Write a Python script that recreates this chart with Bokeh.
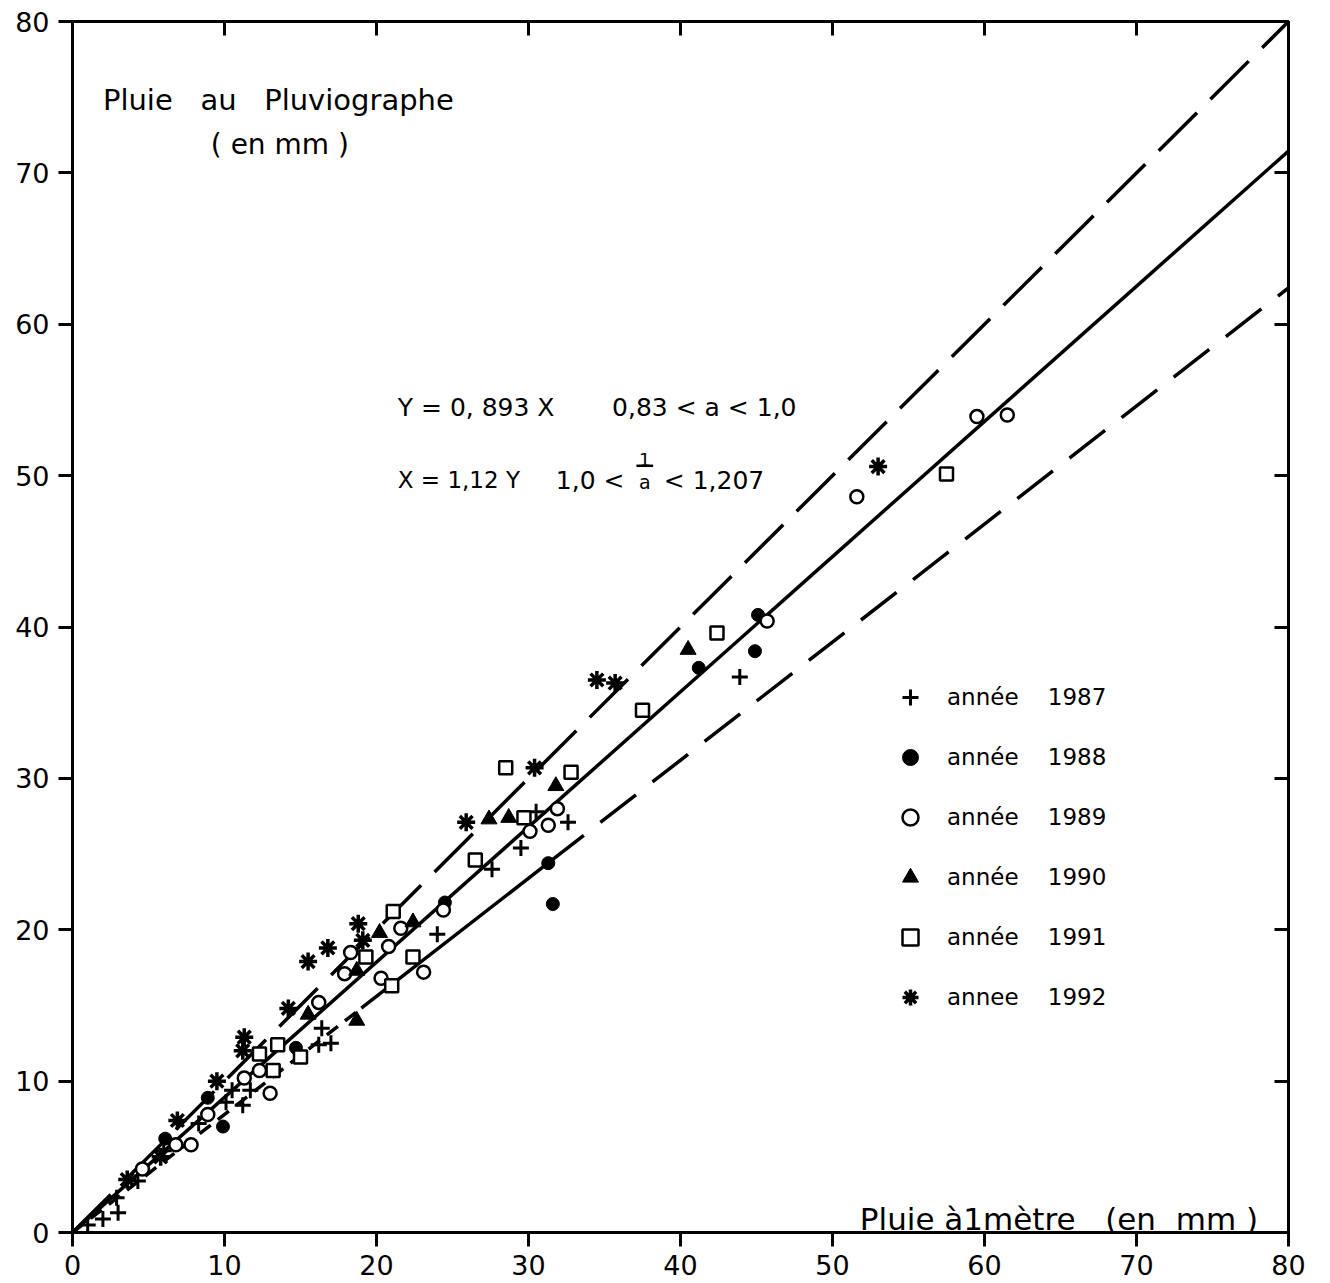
from bokeh.plotting import figure
from bokeh.models import Range1d, FixedTicker, LinearAxis, Label, Legend, LegendItem
from bokeh.embed import file_html
from bokeh.resources import INLINE

# ---------------- data ----------------
x_1987 = [43.9, 32.6, 30.5, 29.5, 27.6, 24.0, 16.4, 16.2, 17.0, 11.7, 10.5, 10.1, 11.2, 8.3, 6.0, 4.3, 2.9, 3.0, 2.0, 1.0]
y_1987 = [36.7, 27.1, 27.8, 25.4, 24.0, 19.7, 13.5, 12.4, 12.5, 9.4, 9.4, 8.6, 8.4, 7.2, 5.4, 3.4, 2.3, 1.3, 0.9, 0.5]

x_1988 = [45.1, 44.9, 41.2, 31.3, 31.6, 24.5, 14.7, 8.9, 9.9, 6.1]
y_1988 = [40.8, 38.4, 37.3, 24.4, 21.7, 21.8, 12.2, 8.9, 7.0, 6.2]

x_1989 = [59.5, 61.5, 51.6, 45.7, 31.9, 31.3, 30.1, 24.4, 21.6, 20.8, 18.3, 17.9, 20.3, 23.1, 16.2, 12.3, 11.3, 13.0, 8.9, 7.8, 6.8, 4.6]
y_1989 = [53.9, 54.0, 48.6, 40.4, 28.0, 26.9, 26.5, 21.3, 20.1, 18.9, 18.5, 17.1, 16.8, 17.2, 15.2, 10.7, 10.2, 9.2, 7.8, 5.8, 5.8, 4.2]

x_1990 = [40.5, 31.8, 27.4, 28.7, 22.4, 20.2, 18.7, 15.5, 18.7]
y_1990 = [38.5, 29.5, 27.3, 27.4, 20.5, 19.8, 17.3, 14.4, 14.0]

x_1991 = [57.5, 42.4, 37.5, 28.5, 32.8, 29.7, 26.5, 21.1, 22.4, 19.3, 21.0, 12.3, 13.5, 15.0, 13.2]
y_1991 = [50.1, 39.6, 34.5, 30.7, 30.4, 27.4, 24.6, 21.2, 18.2, 18.2, 16.3, 11.8, 12.4, 11.6, 10.7]

x_1992 = [53.0, 34.5, 35.7, 30.4, 25.9, 18.8, 19.1, 16.8, 15.5, 14.2, 11.3, 11.2, 9.5, 6.9, 5.8, 3.6]
y_1992 = [50.6, 36.5, 36.3, 30.7, 27.1, 20.4, 19.3, 18.8, 17.9, 14.8, 12.9, 12.0, 10.0, 7.4, 5.0, 3.5]

axis_ticks = [0, 10, 20, 30, 40, 50, 60, 70, 80]

# regression line and envelope lines (slopes as drawn)
line_x = [0, 80]
fit_slope = 0.893
upper_slope = 1.0
lower_slope = 0.78
lower_solid_x = [19.0, 31.3]   # the lower envelope is drawn solid on this stretch
lower_dash_a_x = [0, 19.0]
lower_dash_b_x = [31.3, 80]

legend_labels = ["année    1987", "année    1988", "année    1989",
                 "année    1990", "année    1991", "annee    1992"]

FONT = "DejaVu Sans"
NB = "\u00a0"

p = figure(width=1318, height=1283, x_range=Range1d(0, 80), y_range=Range1d(0, 80),
           output_backend="svg", toolbar_location=None,
           min_border_left=72, min_border_top=21, min_border_right=30, min_border_bottom=51)

p.xgrid.visible = False
p.ygrid.visible = False
p.outline_line_color = "black"
p.outline_line_width = 3
p.background_fill_color = "white"
p.border_fill_color = "white"

for ax in (p.xaxis[0], p.yaxis[0]):
    ax.ticker = FixedTicker(ticks=axis_ticks)
    ax.axis_line_width = 3
    ax.axis_line_color = "black"
    ax.major_tick_line_width = 3
    ax.major_tick_out = 14
    ax.major_tick_in = 0
    ax.minor_tick_line_color = None
    ax.major_label_text_font = FONT
    ax.major_label_text_font_size = "27px"
    ax.major_label_text_color = "black"
p.xaxis[0].major_label_standoff = 8
p.yaxis[0].major_label_standoff = 9

for loc in ("above", "right"):
    ax = LinearAxis(ticker=FixedTicker(ticks=axis_ticks[1:-1]))
    ax.axis_line_width = 3
    ax.major_tick_line_width = 3
    ax.major_tick_in = 14
    ax.major_tick_out = 0
    ax.minor_tick_line_color = None
    ax.major_label_text_font_size = "1px"
    ax.major_label_text_color = None
    ax.major_label_standoff = 0
    p.add_layout(ax, loc)

# lines
p.line(line_x, [fit_slope * v for v in line_x], line_width=3.5, color="black")
p.line(line_x, [upper_slope * v for v in line_x], line_width=3.5, color="black", line_dash="54 19")
p.line(lower_solid_x, [lower_slope * v for v in lower_solid_x], line_width=3.5, color="black")
p.line(lower_dash_a_x, [lower_slope * v for v in lower_dash_a_x], line_width=3.5, color="black", line_dash="14 9")
p.line(lower_dash_b_x, [lower_slope * v for v in lower_dash_b_x], line_width=3.5, color="black", line_dash="45 21")

# points
r87 = p.scatter(x_1987, y_1987, marker="cross", size=16, line_color="black", line_width=3)
r88 = p.scatter(x_1988, y_1988, marker="circle", size=13, fill_color="black", line_color="black")
r89 = p.scatter(x_1989, y_1989, marker="circle", size=13, fill_color="white", line_color="black", line_width=2.5)
r90 = p.scatter(x_1990, y_1990, marker="triangle", size=16, fill_color="black", line_color="black")
r91 = p.scatter(x_1991, y_1991, marker="square", size=13, fill_color="white", line_color="black", line_width=2.5)
r92 = p.scatter(x_1992, y_1992, marker="asterisk", size=18, line_color="black", line_width=3.5)

legend = Legend(items=[LegendItem(label=l, renderers=[r]) for l, r in
                       zip(legend_labels, [r87, r88, r89, r90, r91, r92])],
                location=(818, 215), padding=0, margin=0, spacing=20,
                glyph_width=40, glyph_height=40, label_height=40, label_standoff=17,
                label_text_font=FONT, label_text_font_size="23px", label_text_color="black",
                border_line_alpha=0, background_fill_alpha=0)
p.add_layout(legend)

# texts
def lab(x, y, t, size="23px", align="left"):
    p.add_layout(Label(x=x, y=y, text=t, text_font=FONT, text_font_size=size,
                       text_align=align, text_baseline="alphabetic", text_color="black"))

lab(2.0, 74.8, "Pluie" + NB * 3 + "au" + NB * 3 + "Pluviographe", "29px")
lab(9.1, 71.9, "( en  mm )", "28px")
lab(21.4, 54.5, "Y = 0, 893 X", "25px")
lab(35.5, 54.5, "0,83 < a < 1,0", "25px")
lab(21.4, 49.7, "X = 1,12 Y", "23px")
lab(31.8, 49.7, "1,0  <", "25px")
lab(37.65, 51.05, "1", "18px", "center")
lab(37.65, 49.6, "a", "19px", "center")
lab(38.9, 49.7, "< 1,207", "25px")
p.line([37.1, 38.2], [50.65, 50.65], line_width=2.5, color="black")
lab(51.8, 0.9, "Pluie à1mètre" + NB * 3 + "(en" + NB * 2 + "mm" + NB + ")", "31px")

open("out.html", "w").write(file_html(p, INLINE))
